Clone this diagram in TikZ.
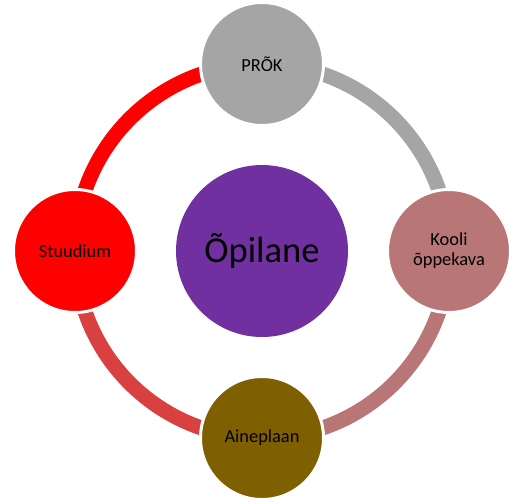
\documentclass[tikz,border=0pt]{standalone}
\usepackage{fontspec}
\setmainfont{Carlito}
\usetikzlibrary{backgrounds}

\definecolor{prokgray}{RGB}{165,165,165}
\definecolor{opilanepurple}{RGB}{112,48,160}
\definecolor{stuudiumred}{RGB}{255,0,0}
\definecolor{koolirose}{RGB}{185,118,118}
\definecolor{aineolive}{RGB}{127,96,0}
\definecolor{arcred}{RGB}{217,65,65}

\tikzset{every picture/.style={line width=0.75pt}}
\tikzset{cyclenode/.style={circle, draw=white, line width=2.25pt, minimum size=92.25pt, inner sep=0pt, align=center, font=\fontsize{13.8}{15}\selectfont},
  ringarc/.style={line width=11.25pt}}

\begin{document}
\begin{tikzpicture}[x=0.75pt,y=0.75pt,yscale=-1,xscale=1]
    \useasboundingbox (0,0) rectangle (509,497);

    % Centre
    \node [circle, fill=opilanepurple, minimum size=129pt, inner sep=0pt, font=\fontsize{27.4}{32}\selectfont] (opilane) at (262,251) {Õpilane};

    % Cycle nodes
    \node [cyclenode, fill=prokgray] (prok) at (262,64) {PRÕK};
    \node [cyclenode, fill=koolirose] (kooli) at (449,251) {Kooli\\õppekava};
    \node [cyclenode, fill=aineolive] (aine) at (262,438) {Aineplaan};
    \node [cyclenode, fill=stuudiumred] (stuudium) at (75,251) {Stuudium};

    % Ring arcs
    \begin{pgfonlayer}{background}
    \draw [ringarc, stuudiumred] (stuudium.center) arc [start angle=180, end angle=270, radius=187];
    \draw [ringarc, prokgray] (prok.center) arc [start angle=270, end angle=360, radius=187];
    \draw [ringarc, koolirose] (kooli.center) arc [start angle=0, end angle=90, radius=187];
    \draw [ringarc, arcred] (aine.center) arc [start angle=90, end angle=180, radius=187];
    \end{pgfonlayer}

\end{tikzpicture}
\end{document}
